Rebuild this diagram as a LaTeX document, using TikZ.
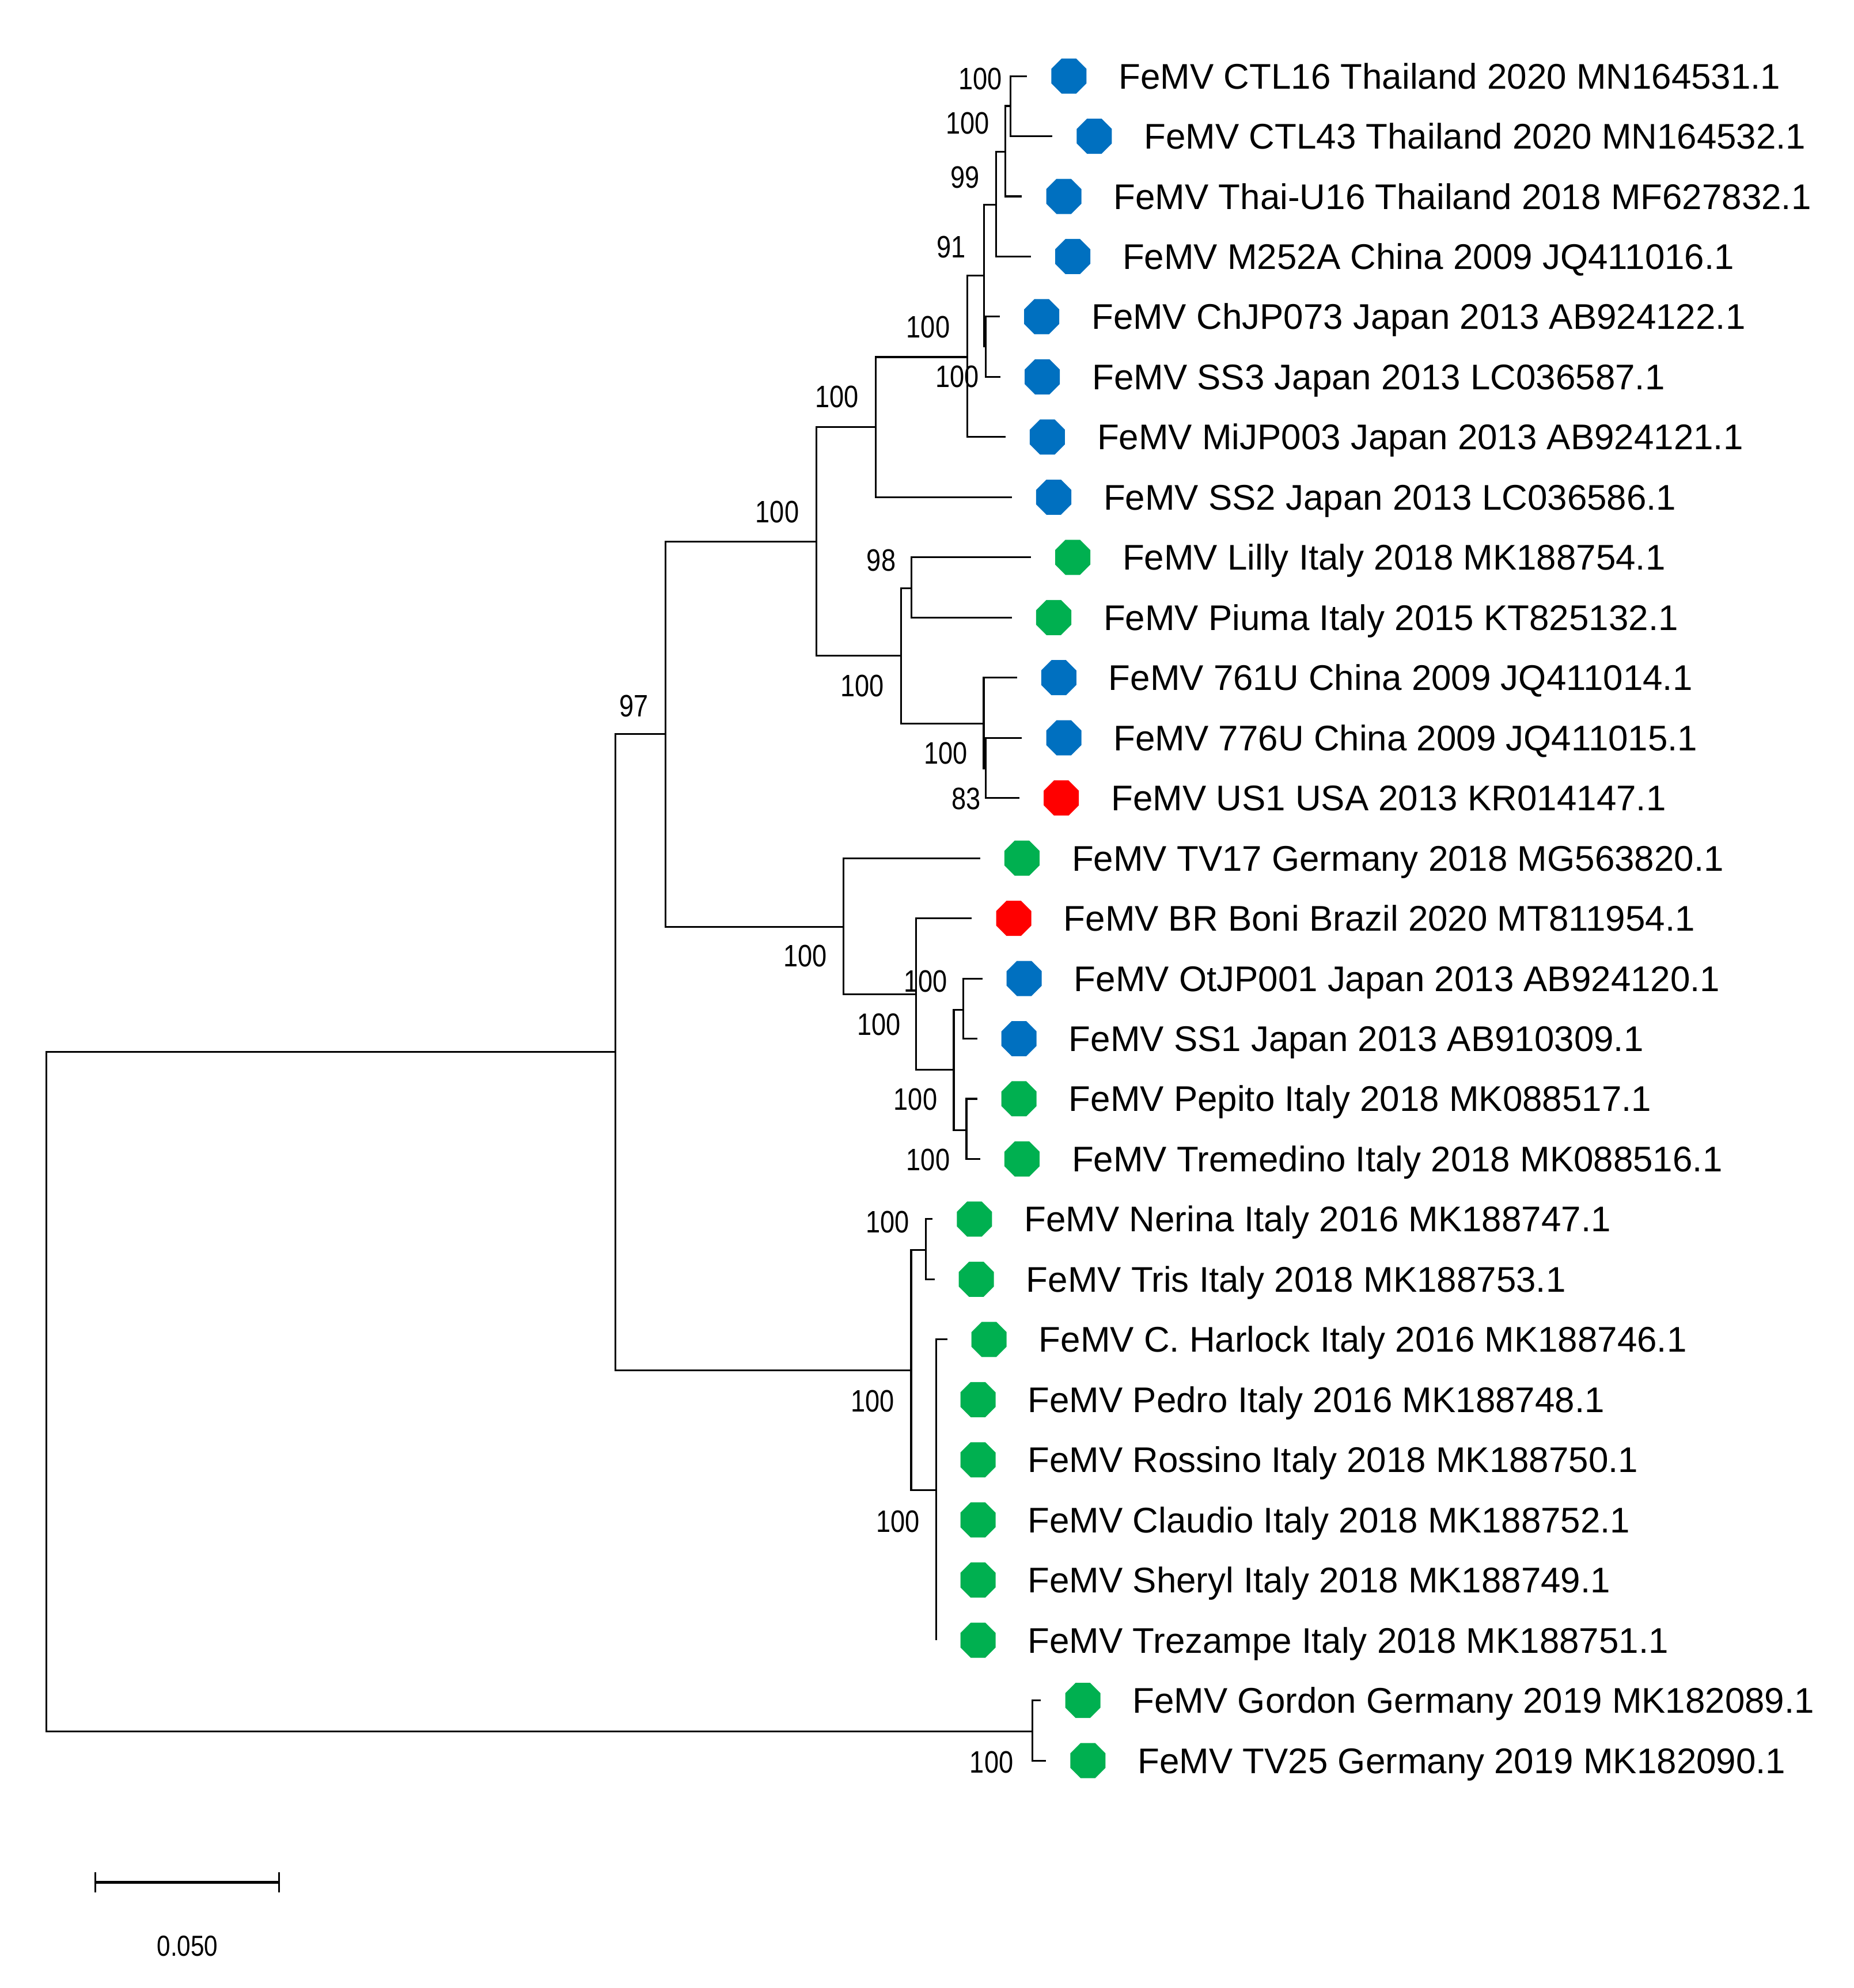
\documentclass[tikz,border=0pt]{standalone}
\usepackage{fontspec}
\setmainfont{Liberation Sans}
\newfontfamily\bsfont[FakeStretch=0.84]{Liberation Sans}
\usetikzlibrary{shapes.geometric}
\definecolor{femvblue}{HTML}{0070C0}
\definecolor{femvgreen}{HTML}{00B050}
\definecolor{femvred}{HTML}{FF0000}
\tikzset{
  branch/.style={line width=0.8pt},
  taxon/.style={regular polygon, regular polygon sides=8, minimum size=0.6cm,
    inner sep=0pt, fill=#1},
  taxonlabel/.style={anchor=base west, inner sep=0pt,
    font=\fontsize{16}{18}\selectfont},
  bootlabel/.style={inner sep=0pt, font=\bsfont\fontsize{13.9}{16}\selectfont},
}
\begin{document}
\begin{tikzpicture}[x=0.02cm,y=-0.02cm]
  \fill[white] (0,0) rectangle (1462,1568);
  \foreach \n/\x/\c/\t [count=\i from 0] in {
    ctl16/810/femvblue/{FeMV CTL16 Thailand 2020 MN164531.1},
    ctl43/830/femvblue/{FeMV CTL43 Thailand 2020 MN164532.1},
    thaiu16/806/femvblue/{FeMV Thai-U16 Thailand 2018 MF627832.1},
    m252a/813/femvblue/{FeMV M252A China 2009 JQ411016.1},
    chjp073/788.5/femvblue/{FeMV ChJP073 Japan 2013 AB924122.1},
    ss3/789/femvblue/{FeMV SS3 Japan 2013 LC036587.1},
    mijp003/793/femvblue/{FeMV MiJP003 Japan 2013 AB924121.1},
    ss2/798/femvblue/{FeMV SS2 Japan 2013 LC036586.1},
    lilly/813/femvgreen/{FeMV Lilly Italy 2018 MK188754.1},
    piuma/798/femvgreen/{FeMV Piuma Italy 2015 KT825132.1},
    u761/802/femvblue/{FeMV 761U China 2009 JQ411014.1},
    u776/806/femvblue/{FeMV 776U China 2009 JQ411015.1},
    us1/804/femvred/{FeMV US1 USA 2013 KR014147.1},
    tv17/773/femvgreen/{FeMV TV17 Germany 2018 MG563820.1},
    boni/766.5/femvred/{FeMV BR Boni Brazil 2020 MT811954.1},
    otjp001/774.7/femvblue/{FeMV OtJP001 Japan 2013 AB924120.1},
    ss1/770.6/femvblue/{FeMV SS1 Japan 2013 AB910309.1},
    pepito/770.6/femvgreen/{FeMV Pepito Italy 2018 MK088517.1},
    tremedino/773/femvgreen/{FeMV Tremedino Italy 2018 MK088516.1},
    nerina/735.5/femvgreen/{FeMV Nerina Italy 2016 MK188747.1},
    tris/737/femvgreen/{FeMV Tris Italy 2018 MK188753.1},
    harlock/747/femvgreen/{FeMV C. Harlock Italy 2016 MK188746.1},
    pedro/738.3/femvgreen/{FeMV Pedro Italy 2016 MK188748.1},
    rossino/738.3/femvgreen/{FeMV Rossino Italy 2018 MK188750.1},
    claudio/738.3/femvgreen/{FeMV Claudio Italy 2018 MK188752.1},
    sheryl/738.3/femvgreen/{FeMV Sheryl Italy 2018 MK188749.1},
    trezampe/738.3/femvgreen/{FeMV Trezampe Italy 2018 MK188751.1},
    gordon/821/femvgreen/{FeMV Gordon Germany 2019 MK182089.1},
    tv25/825/femvgreen/{FeMV TV25 Germany 2019 MK182090.1}}
  {
    \coordinate (\n) at (\x,60+47.45*\i);
    \node[taxon=\c] (\n dot) at (\x+33,60+47.45*\i) {};
    \node[taxonlabel] (\n txt) at (\x+72,70+47.45*\i) {\t};
  }
  \coordinate (n1) at (797,83.6);
  \coordinate (n2) at (793,119.8);
  \coordinate (n3) at (785.6,161.4);
  \coordinate (n4) at (777.5,273.3);
  \coordinate (n5) at (776,217.4);
  \coordinate (n6) at (763,281.6);
  \coordinate (n7) at (690.6,336.8);
  \coordinate (n8) at (718.7,463.9);
  \coordinate (n9) at (777.4,606.2);
  \coordinate (n10) at (775.8,570.7);
  \coordinate (n11) at (710.6,517.3);
  \coordinate (n12) at (643.7,427);
  \coordinate (n13) at (759.8,796.3);
  \coordinate (n14) at (762.2,891.4);
  \coordinate (n15) at (752.2,843.9);
  \coordinate (n16) at (722.5,784.4);
  \coordinate (n17) at (665.2,731);
  \coordinate (n18) at (525,579);
  \coordinate (n19) at (730,985.8);
  \coordinate (n20) at (738.3,1175.1);
  \coordinate (n21) at (718.6,1080.7);
  \coordinate (n22) at (485.4,829.8);
  \coordinate (n23) at (814,1365.8);
  \coordinate (root) at (36.5,1097.8);
  \foreach \p/\c in {n1/ctl16, n1/ctl43, n2/n1, n2/thaiu16, n3/n2, n3/m252a,
    n4/chjp073, n4/ss3, n5/n3, n5/n4, n6/n5, n6/mijp003, n7/n6, n7/ss2,
    n8/lilly, n8/piuma, n9/u776, n9/us1, n10/u761, n10/n9, n11/n8, n11/n10,
    n12/n7, n12/n11, n13/otjp001, n13/ss1, n14/pepito, n14/tremedino,
    n15/n13, n15/n14, n16/boni, n16/n15, n17/tv17, n17/n16, n18/n12, n18/n17,
    n19/nerina, n19/tris, n20/harlock, n20/pedro, n20/rossino, n20/claudio,
    n20/sheryl, n20/trezampe, n21/n19, n21/n20, n22/n18, n22/n21,
    n23/gordon, n23/tv25, root/n22, root/n23}
    \draw[branch] (\p) |- (\c);
  \foreach \x/\y/\v [count=\k] in {773/62/100, 763/97/100, 761/140/99,
    750/195/91, 732/258/100, 755/297/100, 660/313/100, 613/404/100,
    695/442/98, 680/541/100, 746/594/100, 762/630/83, 500/557/97,
    635/754/100, 730/774/100, 693/808/100, 722/867/100, 732/915/100,
    700/964/100, 688/1105/100, 708/1200/100, 782/1390/100}
    \node[bootlabel] (bs\k) at (\x,\y) {\v};
  \coordinate (barl) at (75.3,1484.6);
  \coordinate (barr) at (220.2,1484.6);
  \draw[line width=1.2pt] (barl) -- (barr);
  \draw[branch] (barl) ++(0,-8) -- ++(0,16);
  \draw[branch] (barr) ++(0,-8) -- ++(0,16);
  \node[bootlabel, font=\bsfont\fontsize{13}{15}\selectfont] (bartxt)
    at (147.8,1534.8) {0.050};
\end{tikzpicture}
\end{document}
